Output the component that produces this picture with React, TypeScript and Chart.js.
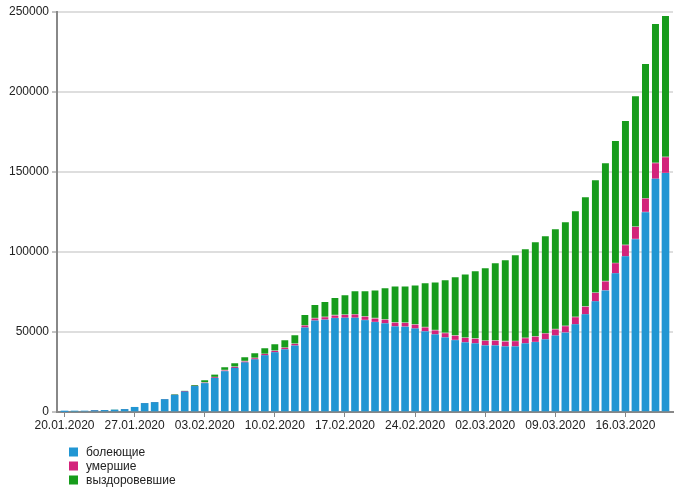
import { useEffect, useRef } from 'react';
import { Chart, registerables } from 'chart.js';

Chart.register(...registerables);

const DATES = [
  '20.01.2020', '21.01.2020', '22.01.2020', '23.01.2020', '24.01.2020', '25.01.2020', '26.01.2020',
  '27.01.2020', '28.01.2020', '29.01.2020', '30.01.2020', '31.01.2020', '01.02.2020', '02.02.2020',
  '03.02.2020', '04.02.2020', '05.02.2020', '06.02.2020', '07.02.2020', '08.02.2020', '09.02.2020',
  '10.02.2020', '11.02.2020', '12.02.2020', '13.02.2020', '14.02.2020', '15.02.2020', '16.02.2020',
  '17.02.2020', '18.02.2020', '19.02.2020', '20.02.2020', '21.02.2020', '22.02.2020', '23.02.2020',
  '24.02.2020', '25.02.2020', '26.02.2020', '27.02.2020', '28.02.2020', '29.02.2020', '01.03.2020',
  '02.03.2020', '03.03.2020', '04.03.2020', '05.03.2020', '06.03.2020', '07.03.2020', '08.03.2020',
  '09.03.2020', '10.03.2020', '11.03.2020', '12.03.2020', '13.03.2020', '14.03.2020', '15.03.2020',
  '16.03.2020', '17.03.2020', '18.03.2020', '19.03.2020', '20.03.2020',
];

const ACTIVE = [
  270, 520, 600, 880, 1000, 1250, 1600, 2950, 5350, 5950, 7800, 10500, 12600, 16000,
  17800, 21100, 25300, 27400, 30800, 32700, 35250, 37150, 38950, 41300, 52600, 56950, 57500, 58500,
  58700, 58700, 57200, 56000, 55200, 53300, 53100, 52000, 50200, 48300, 46400, 44700, 43300, 42700,
  41400, 41400, 40800, 40800, 42700, 43500, 45200, 47600, 49400, 54600, 60900, 69000, 75800, 86500,
  97100, 107800, 124700, 145500, 149100,
];

const DEATHS = [
  6, 17, 18, 26, 30, 40, 50, 80, 130, 135, 170, 250, 300, 370,
  500, 560, 630, 700, 780, 870, 950, 1050, 1150, 1200, 1400, 1550, 1700, 1800,
  2000, 2200, 2400, 2450, 2500, 2550, 2550, 2600, 2650, 2700, 2850, 2950, 3000, 3100,
  3100, 3200, 3250, 3350, 3450, 3600, 3800, 4000, 4250, 4600, 4900, 5400, 5800, 6400,
  7100, 7900, 8700, 10000, 10100,
];

const RECOVERED = [
  24, 28, 30, 36, 40, 50, 60, 70, 110, 130, 150, 250, 350, 500,
  1500, 1700, 2000, 2300, 2700, 3200, 3700, 4200, 4800, 5400, 6700, 8300, 9500, 10900,
  12300, 14500, 15800, 17550, 19600, 22650, 22850, 24500, 27550, 30000, 33050, 36550, 39700, 42100,
  45300, 48300, 50750, 53750, 55550, 59000, 60800, 62600, 64950, 66300, 68400, 70500, 73900, 76400,
  77600, 81700, 84100, 87000, 88300,
];

const SERIES_LABELS = ['болеющие', 'умершие', 'выздоровевшие'];
const SERIES_COLORS = ['#2196D3', '#D3237B', '#179C1C'];
const SERIES_EDGE = ['#2196D3', '#EBA6C8', '#B9C7B4'];

const X_TICK_LABELS = [
  '20.01.2020', '27.01.2020', '03.02.2020', '10.02.2020', '17.02.2020',
  '24.02.2020', '02.03.2020', '09.03.2020', '16.03.2020',
];
const Y_TICKS = [0, 50000, 100000, 150000, 200000, 250000];

const FONT = '"Liberation Sans", Arial, sans-serif';

export default function App() {
  const ref = useRef<HTMLCanvasElement | null>(null);

  useEffect(() => {
    if (!ref.current) return;
    const series = [ACTIVE, DEATHS, RECOVERED];
    const legendPlugin = {
      id: 'vlegend',
      afterDraw(chart: any) {
        const ctx = chart.ctx;
        ctx.save();
        ctx.font = '12px ' + FONT;
        ctx.textBaseline = 'middle';
        chart.data.datasets.forEach((ds: any, i: number) => {
          const y = 452 + i * 14;
          ctx.fillStyle = ds.backgroundColor;
          ctx.fillRect(69, y - 4.5, 9, 9);
          ctx.fillStyle = '#222';
          ctx.fillText(ds.label, 86, y + 0.5);
        });
        ctx.restore();
      },
    };

    const chart = new Chart(ref.current, {
      type: 'bar',
      data: {
        datasets: series.map((vals, s) => ({
          label: SERIES_LABELS[s],
          data: vals.map((v, i) => ({ x: i, y: v })),
          backgroundColor: SERIES_COLORS[s],
          borderColor: SERIES_EDGE[s],
          borderWidth: { top: 0, left: 0, right: 0, bottom: s === 0 ? 0 : 1 },
          borderSkipped: false,
          barThickness: 7,
        })),
      },
      options: {
        responsive: false,
        animation: false,
        layout: { padding: { top: 12, right: 19, bottom: 0, left: 0 } },
        plugins: { legend: { display: false }, tooltip: { enabled: false } },
        scales: {
          x: {
            type: 'linear',
            stacked: true,
            offset: false,
            min: -0.75,
            max: 60.75,
            afterBuildTicks: (scale: any) => {
              scale.ticks = X_TICK_LABELS.map((l) => ({ value: DATES.indexOf(l) }));
            },
            afterFit: (scale: any) => {
              scale.height = 77;
            },
            ticks: {
              autoSkip: false,
              maxRotation: 0,
              padding: 1,
              color: '#222',
              font: { family: FONT, size: 12 },
              callback: (v: any) => DATES[Math.round(Number(v))],
            },
            grid: {
              offset: false,
              drawOnChartArea: false,
              drawTicks: true,
              tickLength: 5,
              color: '#888',
              lineWidth: 1,
            },
            border: { color: '#888', width: 2 },
          },
          y: {
            stacked: true,
            min: 0,
            max: 250000,
            afterBuildTicks: (scale: any) => {
              scale.ticks = Y_TICKS.map((v) => ({ value: v }));
            },
            afterFit: (scale: any) => {
              scale.width = 57;
            },
            ticks: {
              padding: 3,
              color: '#222',
              font: { family: FONT, size: 12 },
              callback: (v: any) => String(v),
            },
            grid: {
              color: '#dedede',
              lineWidth: 2,
              tickColor: '#888',
              tickLength: 5,
              tickWidth: 1,
            },
            border: { color: '#888', width: 2 },
          },
        },
      },
      plugins: [legendPlugin],
    } as any);
    return () => chart.destroy();
  }, []);

  return (
    <div style={{ position: 'fixed', left: 0, top: 0, width: 692, height: 489, background: '#fff' }}>
      <canvas ref={ref} width={692} height={489} style={{ display: 'block' }} />
    </div>
  );
}
